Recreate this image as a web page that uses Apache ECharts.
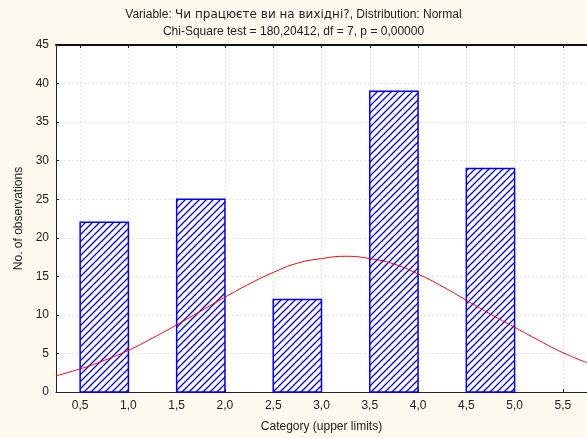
<!DOCTYPE html>
<html>
<head>
<meta charset="utf-8">
<script src="https://cdn.jsdelivr.net/npm/echarts@6/dist/echarts.min.js"></script>
<style>
  html, body { margin: 0; padding: 0; background: #fdf9ee; }
  #chart { width: 587px; height: 438px; }
</style>
</head>
<body>
<div id="chart"></div>
<script>
// Histogram bins: lower edge, upper edge, observed count
const binLower = [0.5, 1.5, 2.5, 3.5, 4.5];
const binUpper = [1.0, 2.0, 3.0, 4.0, 5.0];
const binCounts = [22, 25, 12, 39, 29];

// Expected-frequency curve (fitted normal), sampled points
const curveX = [0.25, 0.5, 0.75, 1.0, 1.25, 1.5, 1.75, 2.0, 2.25, 2.5, 2.75, 3.0,
                3.25, 3.5, 3.75, 4.0, 4.25, 4.5, 4.75, 5.0, 5.25, 5.5, 5.75];
const curveY = [2.1, 3.0, 4.1, 5.4, 7.0, 8.7, 10.5, 12.3, 14.0, 15.5, 16.7, 17.3,
                17.6, 17.3, 16.6, 15.3, 13.7, 11.9, 10.1, 8.4, 6.7, 5.1, 3.8];

// Category tick labels (upper limits)
const xTicks = [0.5, 1.0, 1.5, 2.0, 2.5, 3.0, 3.5, 4.0, 4.5, 5.0, 5.5];

// Title pieces: the variable name is set in a wider face
const titleVarPrefix = 'Variable: ';
const titleVarName = 'Чи працюєте ви на вихідні?';
const titleVarSuffix = ', Distribution: Normal';
const titleStats = 'Chi-Square test = 180,20412, df = 7, p = 0,00000';

// Diagonal hatch tile for bar fill
function hatchTile() {
  const c = document.createElement('canvas');
  const s = 7;
  c.width = s; c.height = s;
  const g = c.getContext('2d');
  g.fillStyle = '#ffffff';
  g.fillRect(0, 0, s, s);
  g.strokeStyle = '#0000ff';
  g.lineWidth = 1.3;
  g.beginPath();
  g.moveTo(-1, s + 1); g.lineTo(s + 1, -1);
  g.moveTo(-1, 1); g.lineTo(1, -1);
  g.moveTo(s - 1, s + 1); g.lineTo(s + 1, s - 1);
  g.stroke();
  return c;
}
const hatch = { image: hatchTile(), repeat: 'repeat' };

const FONT = '"Liberation Sans", Arial, sans-serif';
const fmtComma = v => v.toFixed(1).replace('.', ',');
const gridLine = { show: true, lineStyle: { color: '#e2e2e2', type: [2, 2], width: 1 } };

const chart = echarts.init(document.getElementById('chart'), null, { renderer: 'canvas' });

chart.setOption({
  backgroundColor: '#fdf9ee',
  animation: false,
  title: {
    text: '{a|' + titleVarPrefix + '}{b|' + titleVarName + '}{a|' + titleVarSuffix + '}\n{a|' + titleStats + '}',
    left: 'center',
    top: 1,
    textStyle: {
      fontFamily: FONT, fontSize: 12, fontWeight: 'normal', color: '#222', lineHeight: 17,
      rich: {
        a: { fontFamily: FONT, fontSize: 12, color: '#222', lineHeight: 17 },
        b: { fontFamily: '"DejaVu Sans", sans-serif', fontSize: 12, color: '#222', lineHeight: 17 }
      }
    }
  },
  grid: { left: 56, top: 45, width: 534, height: 348, show: true, backgroundColor: '#ffffff', borderWidth: 0 },
  xAxis: [{
    type: 'value',
    min: 0.25,
    max: 5.75,
    position: 'bottom',
    name: 'Category (upper limits)',
    nameLocation: 'middle',
    nameGap: 29,
    nameTextStyle: { fontFamily: FONT, fontSize: 12, color: '#222' },
    axisLine: { show: true, lineStyle: { color: '#222', width: 1 } },
    axisTick: { show: true, inside: true, length: 3, customValues: xTicks, lineStyle: { color: '#222' } },
    axisLabel: { customValues: xTicks, formatter: fmtComma, fontFamily: FONT, fontSize: 12, color: '#222', margin: 8 },
    splitLine: gridLine
  }, {
    type: 'value',
    min: 0.25,
    max: 5.75,
    position: 'top',
    axisLine: { show: true, onZero: false, lineStyle: { color: '#111', width: 2 } },
    axisTick: { show: true, inside: true, length: 3, customValues: xTicks, lineStyle: { color: '#222' } },
    axisLabel: { show: false, customValues: xTicks },
    splitLine: { show: false }
  }],
  yAxis: {
    type: 'value',
    min: 0,
    max: 45,
    interval: 5,
    name: 'No. of observations',
    nameLocation: 'middle',
    nameGap: 29,
    nameTextStyle: { fontFamily: FONT, fontSize: 12, color: '#222' },
    axisLine: { show: true, lineStyle: { color: '#222', width: 1 } },
    axisTick: { show: true, inside: true, length: 3, lineStyle: { color: '#222' } },
    axisLabel: { fontFamily: FONT, fontSize: 12, color: '#222', margin: 7 },
    splitLine: gridLine
  },
  series: [{
    type: 'custom',
    xAxisIndex: 0,
    data: binCounts.map((c, i) => [binLower[i], binUpper[i], c]),
    renderItem: function (params, api) {
      const p0 = api.coord([api.value(0), api.value(2)]);
      const p1 = api.coord([api.value(1), 0]);
      return {
        type: 'rect',
        shape: { x: p0[0], y: p0[1], width: p1[0] - p0[0], height: p1[1] - p0[1] },
        style: { fill: hatch, stroke: '#0000ff', lineWidth: 1.5 }
      };
    },
    z: 2
  }, {
    type: 'line',
    xAxisIndex: 0,
    data: curveX.map((x, i) => [x, curveY[i]]),
    smooth: true,
    showSymbol: false,
    lineStyle: { color: '#ff0000', width: 1 },
    z: 3
  }]
});
</script>
</body>
</html>
